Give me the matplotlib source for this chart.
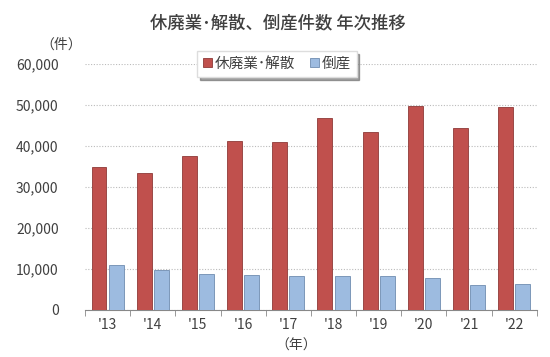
import numpy as np
import matplotlib
matplotlib.use('Agg')
import matplotlib.pyplot as plt
from matplotlib.ticker import FuncFormatter

plt.rcParams['font.family'] = ['Noto Sans CJK JP', 'DejaVu Sans']

years = ["'13", "'14", "'15", "'16", "'17", "'18", "'19", "'20", "'21", "'22"]
closures = [34800, 33475, 37548, 41162, 40909, 46724, 43348, 49698, 44377, 49625]
bankruptcies = [10855, 9731, 8812, 8446, 8405, 8235, 8383, 7773, 6030, 6428]

red = '#C0504D'
blue = '#9DBBE0'
txt = '#404040'

fig = plt.figure(figsize=(5.5, 3.57), dpi=100)
ax = fig.add_axes([0.1545, 0.1317, 0.8215, 0.689])

x = np.arange(len(years))
w = 0.33
ax.bar(x - 0.19, closures, w, color=red, edgecolor='#8E3A38', linewidth=0.6,
       label='休廃業･解散', zorder=3)
ax.bar(x + 0.19, bankruptcies, w, color=blue, edgecolor='#6F8CB0', linewidth=0.6,
       label='倒産', zorder=3)

ax.set_xlim(-0.5, len(years) - 0.5)
ax.set_ylim(0, 60000)
ax.set_yticks(range(0, 60001, 10000))
ax.yaxis.set_major_formatter(FuncFormatter(lambda v, p: f'{int(v):,}'))
ax.set_xticks(x)
ax.set_xticklabels(years)
ax.set_xticks(np.arange(-0.5, len(years)), minor=True)

ax.grid(axis='y', linestyle=(0, (1, 1.5)), color='#BBBBBB', linewidth=0.8, zorder=0)
for s in ['top', 'right', 'left']:
    ax.spines[s].set_visible(False)
ax.spines['bottom'].set_color('#888888')
ax.tick_params(axis='y', length=0, labelsize=10, colors=txt, pad=19)
ax.tick_params(axis='x', which='major', length=0, labelsize=10, colors=txt, pad=6)
ax.tick_params(axis='x', which='minor', length=4, color='#888888', direction='out')

fig.text(0.505, 0.935, '休廃業･解散、倒産件数 年次推移', ha='center', va='center',
         fontsize=12.5, fontweight='medium', color=txt)
fig.text(0.112, 0.875, '（件）', ha='center', va='center', fontsize=10, color=txt)
fig.text(0.538, 0.032, '（年）', ha='center', va='center', fontsize=10, color=txt)

leg = ax.legend(loc='center', bbox_to_anchor=(0.425, 1.0), ncol=2, fontsize=10.5,
                handlelength=0.6, handleheight=0.6, handletextpad=0.2,
                columnspacing=1.0, frameon=True, fancybox=False, shadow=True,
                borderpad=0.4)
leg.get_frame().set_edgecolor('#DDDDDD')
for t in leg.get_texts():
    t.set_color(txt)

fig.savefig('out.png', dpi=100)
